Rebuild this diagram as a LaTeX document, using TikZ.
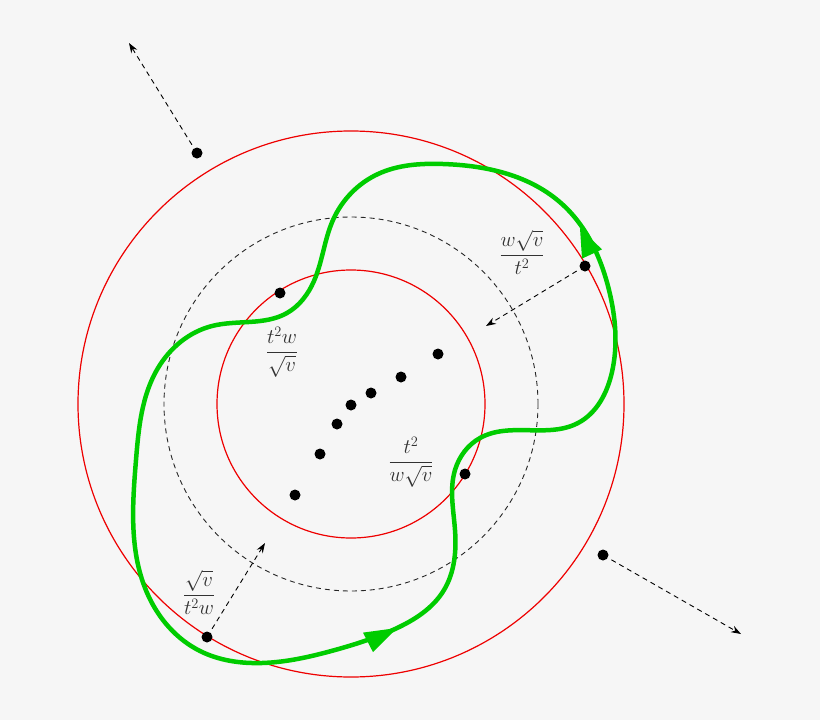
\documentclass[tikz,border=0pt]{standalone}
\usetikzlibrary{arrows.meta,hobby}
\definecolor{bgc}{RGB}{246,246,246}
\definecolor{rc}{RGB}{238,0,0}
\definecolor{gc}{RGB}{0,204,0}
\definecolor{txt}{RGB}{50,50,50}
\begin{document}
\begin{tikzpicture}[x=1pt,y=-1pt,
  dotn/.style={circle,fill=black,inner sep=0pt,minimum size=11pt},
  redc/.style={draw=rc,line width=1.2pt},
  dashc/.style={draw=black!85,line width=0.9pt,dash pattern=on 5pt off 4pt},
  darr/.style={black,line width=0.9pt,dash pattern=on 5pt off 4pt,shorten <=4pt,-{Stealth[length=10pt,width=7pt]}},
  lab/.style={text=txt,inner sep=0pt,font=\fontsize{21.5}{25}\selectfont},
  gcurve/.style={draw=gc,line width=4.5pt,line join=round}]
\fill[bgc] (0,0) rectangle (820,720);
\useasboundingbox (0,0) rectangle (820,720);
\coordinate (c) at (351,404);
% circles
\draw[redc] (c) circle[radius=273];
\draw[redc] (c) circle[radius=134];
\draw[dashc] (c) circle[radius=187];
% green curve
\draw[gcurve,use Hobby shortcut,closed=true]
 (395,629) .. (444,590) .. (455,530) .. (455,470) .. (480,438) .. (578,423)
 .. (612,372) .. (609,290) .. (562,204) .. (443,164) .. (378,174)
 .. (333,220) .. (314,281) .. (287,313) .. (212,326) .. (158,368)
 .. (136,460) .. (148,595) .. (200,651) .. (262,663) .. (335,650);
\fill[gc] (580,228) -- (602,249.4) -- (582,258.6) -- cycle;
\fill[gc] (397,628) -- (373,652.2) -- (363,632.6) -- cycle;
% dots
\node[dotn] (a) at (197,153) {};
\node[dotn] (b) at (280,293) {};
\node[dotn] (d1) at (438,354) {};
\node[dotn] (d2) at (401,377) {};
\node[dotn] (d3) at (371,393) {};
\node[dotn] (d4) at (351,405) {};
\node[dotn] (d5) at (337,424) {};
\node[dotn] (d6) at (320,454) {};
\node[dotn] (d7) at (295,495) {};
\node[dotn] (e) at (465,474) {};
\node[dotn] (f) at (585,266) {};
\node[dotn] (g) at (207,637) {};
\node[dotn] (h) at (603,555) {};
% dashed arrows
\coordinate (ta) at (129,43);
\coordinate (th) at (741,634);
\coordinate (tf) at (486,326);
\coordinate (tg) at (265,543);
\draw[darr] (a) -- (ta);
\draw[darr] (h) -- (th);
\draw[darr] (f) -- (tf);
\draw[darr] (g) -- (tg);
% labels
\node[lab] (l1) at (522,252) {$\displaystyle\frac{w\sqrt{v}}{t^2}$};
\node[lab] (l2) at (282,352) {$\displaystyle\frac{t^2w}{\sqrt{v}}$};
\node[lab] (l3) at (411,462) {$\displaystyle\frac{t^2}{w\sqrt{v}}$};
\node[lab] (l4) at (199,592) {$\displaystyle\frac{\sqrt{v}}{t^2w}$};
\end{tikzpicture}
\end{document}
